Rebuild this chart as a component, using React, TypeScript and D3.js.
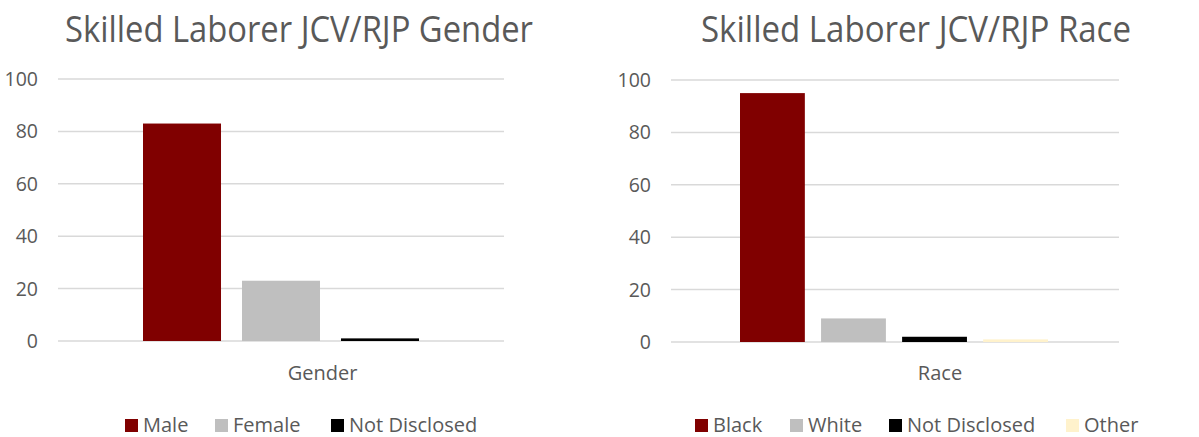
import React from "react";
import * as d3 from "d3";

const genderCategories = ["Male", "Female", "Not Disclosed"];
const genderValues = [83, 23, 1];
const genderColors = ["#800000", "#bfbfbf", "#000000"];

const raceCategories = ["Black", "White", "Not Disclosed", "Other"];
const raceValues = [95, 9, 2, 1];
const raceColors = ["#800000", "#bfbfbf", "#000000", "#fff2cc"];

const yTicks = [0, 20, 40, 60, 80, 100];

const FONT = "'Open Sans', 'Liberation Sans', sans-serif";
const TEXT = "#595959";

type PanelProps = {
  title: string;
  titleX: number;
  titleLen: number;
  axisTitle: string;
  axisTitleX: number;
  cats: string[];
  vals: number[];
  colors: string[];
  gridX0: number;
  gridX1: number;
  barX0: number;
  barX1: number;
  padInner: number;
  yTop: number;
  yBottom: number;
  tickRight: number;
  legendX: number[];
};

function Panel(p: PanelProps) {
  const y = d3.scaleLinear().domain([0, 100]).range([p.yBottom, p.yTop]);
  const x = d3
    .scaleBand<string>()
    .domain(p.cats)
    .range([p.barX0, p.barX1])
    .paddingInner(p.padInner)
    .paddingOuter(0);
  return (
    <g>
      <text
        x={p.titleX}
        y={41.5}
        fontFamily={FONT}
        fontSize={36}
        fill={TEXT}
        textLength={p.titleLen}
        lengthAdjust="spacingAndGlyphs"
      >
        {p.title}
      </text>
      {yTicks.map((t) => (
        <g key={t}>
          <line
            x1={p.gridX0}
            x2={p.gridX1}
            y1={y(t)}
            y2={y(t)}
            stroke="#d9d9d9"
            strokeWidth={1.5}
          />
          <text
            x={p.tickRight}
            y={y(t)}
            dy="0.36em"
            textAnchor="end"
            fontFamily={FONT}
            fontSize={19.5}
            fill={TEXT}
          >
            {t}
          </text>
        </g>
      ))}
      {p.cats.map((c, i) => (
        <rect
          key={c}
          x={x(c)}
          width={x.bandwidth()}
          y={y(p.vals[i])}
          height={y(0) - y(p.vals[i])}
          fill={p.colors[i]}
        />
      ))}
      <text
        x={p.axisTitleX}
        y={380}
        textAnchor="middle"
        fontFamily={FONT}
        fontSize={20}
        fill={TEXT}
      >
        {p.axisTitle}
      </text>
      {p.cats.map((c, i) => (
        <g key={c}>
          <rect x={p.legendX[i]} y={419} width={13} height={13} fill={p.colors[i]} />
          <text
            x={p.legendX[i] + 18}
            y={432}
            fontFamily={FONT}
            fontSize={20}
            fill={TEXT}
          >
            {c}
          </text>
        </g>
      ))}
    </g>
  );
}

export default function App() {
  return (
    <svg
      width={1199}
      height={437}
      style={{ position: "absolute", left: 0, top: 0, background: "#fff" }}
    >
      <rect width={1199} height={437} fill="#fff" />
      <Panel
        title="Skilled Laborer JCV/RJP Gender"
        titleX={65}
        titleLen={468}
        axisTitle="Gender"
        axisTitleX={322.5}
        cats={genderCategories}
        vals={genderValues}
        colors={genderColors}
        gridX0={58}
        gridX1={504}
        barX0={143}
        barX1={419}
        padInner={0.212}
        yTop={79}
        yBottom={341}
        tickRight={38}
        legendX={[125, 215, 331]}
      />
      <Panel
        title="Skilled Laborer JCV/RJP Race"
        titleX={701}
        titleLen={430}
        axisTitle="Race"
        axisTitleX={940}
        cats={raceCategories}
        vals={raceValues}
        colors={raceColors}
        gridX0={671}
        gridX1={1119}
        barX0={740}
        barX1={1048}
        padInner={0.2}
        yTop={80}
        yBottom={342}
        tickRight={651}
        legendX={[695, 790, 889, 1066]}
      />
    </svg>
  );
}
